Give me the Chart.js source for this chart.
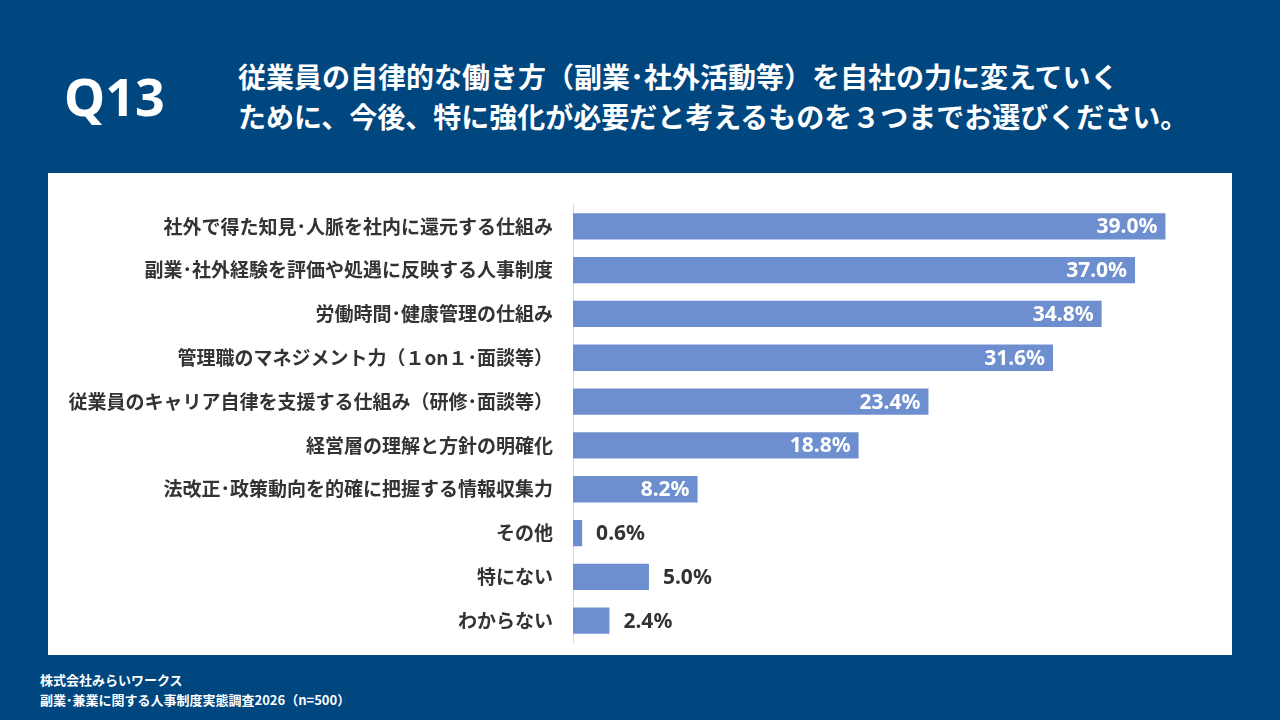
<!DOCTYPE html>
<html><head><meta charset="utf-8">
<script src="https://cdn.jsdelivr.net/npm/chart.js@4"></script>
<style>
body{margin:0;width:1280px;height:720px;background:#00467F;position:relative;overflow:hidden;font-family:"Noto Sans CJK JP",sans-serif;}
#q{position:absolute;left:64px;top:60px;color:#fff;font:bold 52px "Noto Sans","Noto Sans CJK JP";}
#title{position:absolute;left:238px;top:56px;color:#fff;font-weight:bold;font-size:28px;line-height:40px;}
#panel{position:absolute;left:48px;top:173px;width:1184px;height:482px;background:#fff;overflow:hidden;}
#foot{position:absolute;left:40px;top:670px;color:#fff;font-weight:bold;font-size:13px;line-height:20px;}
</style></head><body>
<div id="q">Q13</div>
<div id="title">従業員の自律的な働き方（副業･社外活動等）を自社の力に変えていく<br>ために、今後、特に強化が必要だと考えるものを３つまでお選びください。</div>
<div id="panel"><canvas id="c" width="1184" height="501"></canvas></div>
<div id="foot">株式会社みらいワークス<br>副業･兼業に関する人事制度実態調査2026（n=500）</div>
<script>
const categories = ['社外で得た知見･人脈を社内に還元する仕組み','副業･社外経験を評価や処遇に反映する人事制度','労働時間･健康管理の仕組み','管理職のマネジメント力（１on１･面談等）','従業員のキャリア自律を支援する仕組み（研修･面談等）','経営層の理解と方針の明確化','法改正･政策動向を的確に把握する情報収集力','その他','特にない','わからない'];
const values = [39.0,37.0,34.8,31.6,23.4,18.8,8.2,0.6,5.0,2.4];

const labelPlugin = {
  id:'vals',
  afterDatasetsDraw(chart){
    const ctx = chart.ctx;
    chart.getDatasetMeta(0).data.forEach((bar,i)=>{
      const v = values[i];
      ctx.save();
      ctx.font = 'bold 21px "Noto Sans","Noto Sans CJK JP"';
      ctx.textBaseline = 'middle';
      if (v >= 8) { ctx.fillStyle='#fff'; ctx.textAlign='right'; ctx.fillText(v.toFixed(1)+'%', bar.x-8, bar.y+1); }
      else { ctx.fillStyle='#333'; ctx.textAlign='left'; ctx.fillText(v.toFixed(1)+'%', bar.x+14, bar.y+1); }
      ctx.restore();
    });
  }
};

new Chart(document.getElementById('c'), {
  type:'bar',
  data:{labels:categories,datasets:[{data:values,backgroundColor:'#6E8FCF',barPercentage:0.6,categoryPercentage:1}]},
  options:{
    indexAxis:'y',responsive:false,animation:false,
    layout:{padding:{top:0,bottom:0,right:21}},
    plugins:{legend:{display:false},tooltip:{enabled:false}},
    scales:{
      x:{min:0,max:42,display:false},
      y:{grid:{display:false,drawTicks:false},border:{color:'#d9d9d9'},
         afterFit(s){s.width=525;},
         ticks:{padding:20,color:'#333',font:{size:19,weight:'bold',family:'"Noto Sans CJK JP"'}}}
    }
  },
  plugins:[labelPlugin]
});
</script>
</body></html>
